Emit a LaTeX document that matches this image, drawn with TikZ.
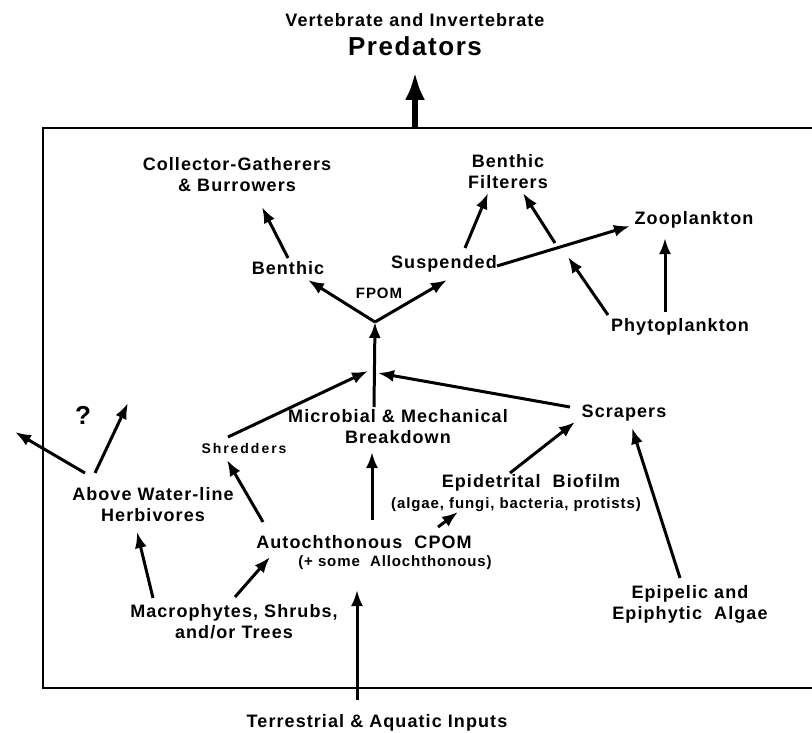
\documentclass[tikz,border=0pt]{standalone}
\usepackage{fontspec}
\setmainfont{Liberation Sans}[LetterSpace=6]
\usetikzlibrary{arrows.meta,calc}

\begin{document}
\begin{tikzpicture}[x=1pt, y=-1pt,
  lbl/.style={font=\fontsize{18}{21}\selectfont\bfseries, align=center, inner sep=1pt},
  note/.style={font=\fontsize{15}{18}\selectfont\bfseries, align=center, inner sep=1pt},
  small/.style={font=\fontsize{14}{17}\selectfont\bfseries\addfontfeature{LetterSpace=14}, inner sep=1pt},
  big/.style={font=\fontsize{26}{29}\selectfont\bfseries, inner sep=1pt},
  ar/.style={-{Latex[length=16pt,width=12pt]}, line width=3pt},
  bigar/.style={-{Latex[length=28pt,width=20pt]}, line width=6pt}]

  \useasboundingbox (0,0) rectangle (812,733);

  \node[lbl] (vert) at (415,20) {Vertebrate and Invertebrate};
  \node[big] (pred) at (415,46) {Predators};

  \node[lbl] (cg) at (237,175) {Collector-Gatherers\\\& Burrowers};
  \node[lbl] (bf) at (508,172) {Benthic\\Filterers};
  \node[lbl] (zoo) at (694,220) {Zooplankton};
  \node[lbl] (benthic) at (288,268) {Benthic};
  \node[lbl] (susp) at (444,264) {Suspended};
  \node[note] (fpom) at (379,293) {FPOM};
  \node[lbl] (phyto) at (680,327) {Phytoplankton};
  \node[big] (q) at (83,415) {?};
  \node[lbl] (micro) at (398,427) {Microbial \& Mechanical\\Breakdown};
  \node[lbl] (scr) at (624,413) {Scrapers};
  \node[small] (shred) at (244,448) {Shredders};
  \node[lbl] (above) at (153,505) {Above Water-line\\Herbivores};
  \node[lbl] (epi) at (531,483) {Epidetrital\ \ Biofilm};
  \node[note] (epinote) at (516,505) {(algae, fungi, bacteria, protists)};
  \node[lbl] (auto) at (364,542) {Autochthonous\ \ CPOM};
  \node[note] (autonote) at (395,563) {(+ some\ \ Allochthonous)};
  \node[lbl] (macro) at (234,622) {Macrophytes, Shrubs,\\and/or Trees};
  \node[lbl] (epip) at (690,604) {Epipelic and\\Epiphytic\ \ Algae};
  \node[lbl] (terr) at (377,723) {Terrestrial \& Aquatic Inputs};

  \coordinate (boxtop) at (415,128);
  \coordinate (v) at (375,322);
  \coordinate (j1) at (368,371);
  \coordinate (j2) at (378,373);
  \coordinate (j3) at (568,257);
  \coordinate (j4) at (555,243);
  \coordinate (outl) at (15,432);
  \coordinate (outu) at (128,403);

  \draw[line width=2.5pt] (812,128) -- (43,128) -- (43,688) -- (812,688);

  \draw[bigar] (boxtop) -- ($(pred)+(0,26)$);
  \draw[ar] ($(benthic)+(0,-10)$) -- ($(cg)+(25,32)$);
  \draw[ar] (v) -- ($(benthic)+(20,12)$);
  \draw[ar] (v) -- ($(susp)+(3,16)$);
  \draw[ar] ($(micro)+(-24,-20)$) -- (v);
  \draw[ar] ($(shred)+(-16,-11)$) -- (j1);
  \draw[ar] ($(scr)+(-54,-6)$) -- (j2);
  \draw[ar] ($(susp)+(21,-16)$) -- ($(bf)+(-20,21)$);
  \draw[ar] ($(susp)+(53,2)$) -- ($(zoo)+(-64,6)$);
  \draw[ar] ($(phyto)+(-72,-12)$) -- (j3);
  \draw[ar] (j4) -- ($(bf)+(15,21)$);
  \draw[ar] ($(phyto)+(-15,-15)$) -- ($(zoo)+(-29,18)$);
  \draw[ar] ($(above)+(-68,-32)$) -- (outl);
  \draw[ar] ($(above)+(-58,-32)$) -- (outu);
  \draw[ar] ($(macro)+(-81,-24)$) -- ($(above)+(-16,27)$);
  \draw[ar] ($(macro)+(1,-25)$) -- ($(auto)+(-94,15)$);
  \draw[ar] ($(auto)+(-101,-20)$) -- ($(shred)+(-17,12)$);
  \draw[ar] ($(auto)+(8,-22)$) -- ($(micro)+(-26,25)$);
  \draw[ar] ($(auto)+(74,-15)$) -- ($(epinote)+(-58,7)$);
  \draw[ar] ($(epi)+(-21,-10)$) -- ($(scr)+(-49,9)$);
  \draw[ar] ($(epip)+(-10,-26)$) -- ($(scr)+(8,15)$);
  \draw[ar] ($(terr)+(-20,-23)$) -- ($(autonote)+(-38,27)$);
\end{tikzpicture}
\end{document}
